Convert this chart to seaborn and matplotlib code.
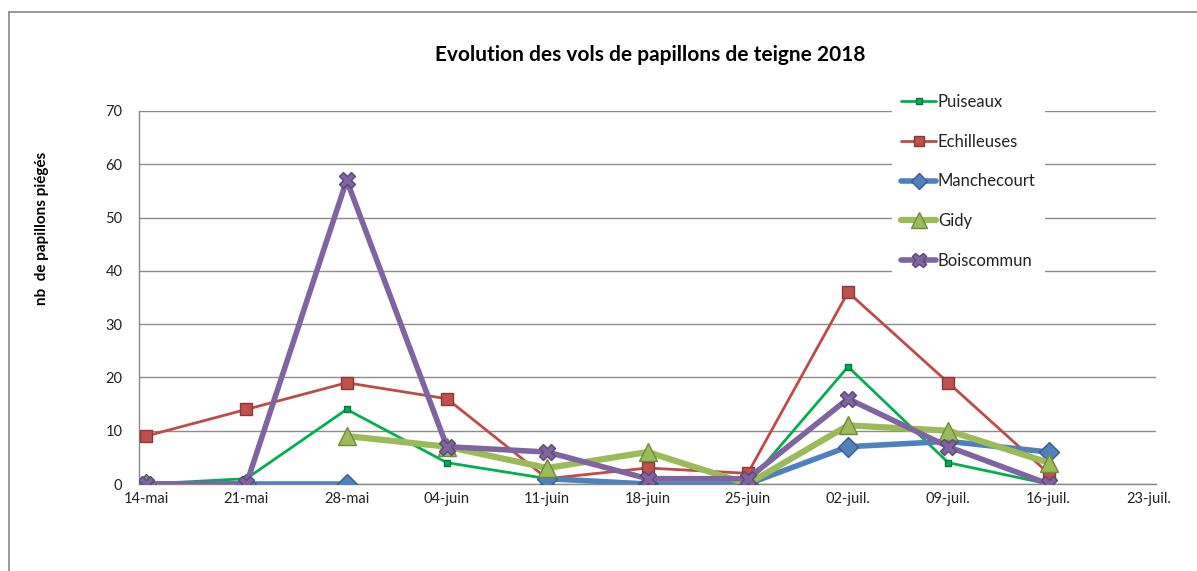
import numpy as np
import pandas as pd
import matplotlib
matplotlib.use("Agg")
import matplotlib.pyplot as plt
from matplotlib.lines import Line2D
import seaborn as sns

# ---- data ----
dates = ["14-mai", "21-mai", "28-mai", "04-juin", "11-juin", "18-juin",
         "25-juin", "02-juil.", "09-juil.", "16-juil."]
tick_labels = dates + ["23-juil."]
puiseaux = [0, 1, 14, 4, 1, 0, 0, 22, 4, 0]
echilleuses = [9, 14, 19, 16, 1, 3, 2, 36, 19, 2]
manchecourt = [0, 0, 0, np.nan, 1, 0, 0, 7, 8, 6]
gidy = [0, np.nan, 9, 7, 3, 6, 0, 11, 10, 4]
boiscommun = [0, 0, 57, 7, 6, 1, 1, 16, 7, 0]
series_names = ["Puiseaux", "Echilleuses", "Manchecourt", "Gidy", "Boiscommun"]
series_values = [puiseaux, echilleuses, manchecourt, gidy, boiscommun]
y_ticks = [0, 10, 20, 30, 40, 50, 60, 70]

styles = {
    "Puiseaux":    dict(color="#00B050", lw=2.0, marker="s", ms=5,  mfc="#00B050", mec="#007A38"),
    "Echilleuses": dict(color="#BE4B48", lw=2.0, marker="s", ms=9,  mfc="#C0504D", mec="#8C3836"),
    "Manchecourt": dict(color="#4F81BD", lw=4.0, marker="D", ms=10, mfc="#4F81BD", mec="#385D8A"),
    "Gidy":        dict(color="#9BBB59", lw=4.5, marker="^", ms=13, mfc="#9BBB59", mec="#71893F"),
    "Boiscommun":  dict(color="#8064A2", lw=4.0, marker="X", ms=12, mfc="#8064A2", mec="#5C4776"),
}

sns.set_theme(style="white")
plt.rcParams["font.family"] = ["Lato", "DejaVu Sans"]

fig = plt.figure(figsize=(11.97, 5.71), dpi=100)
ax = fig.add_axes([139/1197, 1-484/571, (1156-139)/1197, (484-111)/571])

# x positions in days: each point at mid-day of its week start
x_days = [7*i + 0.5 for i in range(len(dates))]

handles = []
for z, (name, vals) in enumerate(zip(series_names, series_values)):
    st = styles[name]
    df = pd.DataFrame({"x": x_days, "y": vals})
    df["seg"] = df["y"].isna().cumsum()
    df = df.dropna()
    for s, sub in df.groupby("seg"):
        sns.lineplot(data=sub, x="x", y="y", ax=ax, color=st["color"], lw=st["lw"],
                     marker=st["marker"], markersize=st["ms"], markerfacecolor=st["mfc"],
                     markeredgecolor=st["mec"], markeredgewidth=1.0, zorder=3+z,
                     estimator=None, sort=False, legend=False)
    handles.append(Line2D([0], [0], color=st["color"], lw=st["lw"], marker=st["marker"],
                          markersize=st["ms"]*0.85, markerfacecolor=st["mfc"],
                          markeredgecolor=st["mec"], label=name))

ax.set_xlim(0, 71)
ax.set_ylim(0, 70)
ax.set_yticks(y_ticks)
ax.set_yticklabels([str(v) for v in y_ticks])
ax.set_xticks([7*i + 0.5 for i in range(len(tick_labels))])
ax.set_xticklabels(tick_labels)
ax.set_xticks([7*i for i in range(len(tick_labels))], minor=True)
ax.tick_params(axis="x", which="major", length=0, pad=6, labelsize=10.5, colors="#222222")
ax.tick_params(axis="x", which="minor", length=5, width=1, color="#888888", direction="out")
ax.tick_params(axis="y", which="major", length=6, width=1, color="#888888", direction="out",
               pad=6, labelsize=10.5, labelcolor="#222222")
ax.grid(axis="y", color="#8C8C8C", lw=1.0)
ax.set_axisbelow(True)
for sp in ["top", "right"]:
    ax.spines[sp].set_visible(False)
for sp in ["left", "bottom"]:
    ax.spines[sp].set_color("#888888")
    ax.spines[sp].set_linewidth(1.0)
ax.set_xlabel("")
ax.set_ylabel("")

fig.text(650/1197, 1-55/571, "Evolution des vols de papillons de teigne 2018",
         ha="center", va="center", fontsize=15, fontweight="bold", color="#000000")
fig.text(42/1197, 1-228/571, "nb  de papillons piégés", rotation=90,
         ha="center", va="center", fontsize=11, fontweight="bold", color="#000000")

leg = fig.legend(handles=handles, loc="upper left",
                 bbox_to_anchor=(892/1197, 1-85/571), frameon=True,
                 facecolor="white", edgecolor="none", framealpha=1,
                 fontsize=12, handlelength=2.1, handletextpad=0.1,
                 labelspacing=1.42, borderpad=0.55, borderaxespad=0)
leg.get_frame().set_linewidth(0)
for t in leg.get_texts():
    t.set_color("#222222")

# outer chart border (left and top)
fig.add_artist(Line2D([9/1197, 9/1197], [0, 1-12/571], color="#888888", lw=1.2))
fig.add_artist(Line2D([9/1197, 1], [1-12/571, 1-12/571], color="#888888", lw=1.2))

fig.savefig("out.png", dpi=100)
